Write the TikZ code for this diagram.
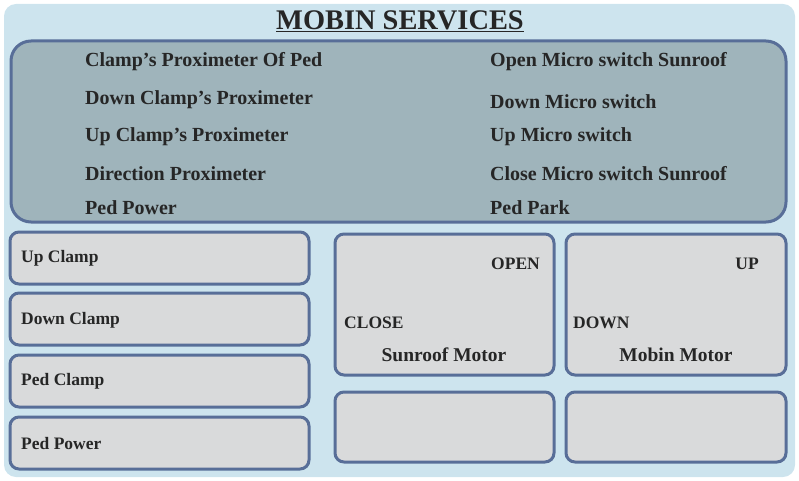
\documentclass[tikz,border=0pt]{standalone}
\usepackage{fontspec}
\setmainfont{Liberation Serif}
\usepackage{xcolor}
\definecolor{bgblue}{HTML}{CDE4EE}
\definecolor{panelgray}{HTML}{9FB4BB}
\definecolor{boxgray}{HTML}{D9DADB}
\definecolor{edgeblue}{HTML}{586E98}
\definecolor{inkgray}{HTML}{262626}

\begin{document}
\begin{tikzpicture}[x=1pt,y=-1pt]
    \tikzset{line/.style={draw=edgeblue,line width=3pt}}
    \tikzset{panel/.style={line,rounded corners=20pt,fill=panelgray}}
    \tikzset{box/.style={line,rounded corners=9pt,fill=boxgray}}
    \tikzset{label/.style={anchor=west,inner sep=0pt,yshift=-2pt,text=inkgray,font=\bfseries\fontsize{20}{20}\selectfont}}
    \tikzset{small/.style={anchor=west,inner sep=0pt,yshift=-1pt,text=inkgray,font=\bfseries\fontsize{17.5}{17.5}\selectfont}}
    \tikzset{motor/.style={inner sep=0pt,yshift=-1pt,text=inkgray,font=\bfseries\fontsize{19.5}{19.5}\selectfont}}

    \useasboundingbox (0,0) rectangle (799,481);
    \fill[bgblue,rounded corners=12pt] (4,4) rectangle (795,477);

    \node[inner sep=0pt,text=inkgray,font=\bfseries\fontsize{28.4}{28.4}\selectfont] (title) at (400,21) {\underline{MOBIN SERVICES}};

    % sensor panel
    \path[panel] (11,41) rectangle (786,222);
    \node[label] (t1) at (85,60) {Clamp’s Proximeter Of Ped};
    \node[label] (t2) at (85,98) {Down Clamp’s Proximeter};
    \node[label] (t3) at (85,135) {Up Clamp’s Proximeter};
    \node[label] (t4) at (85,172) {Direction Proximeter};
    \node[label] (t5) at (85,206) {Ped Power};
    \node[label] (s1) at (490,60) {Open Micro switch Sunroof};
    \node[label] (s2) at (490,100) {Down Micro switch};
    \node[label] (s3) at (490,135) {Up Micro switch};
    \node[label] (s4) at (490,172) {Close Micro switch Sunroof};
    \node[label] (s5) at (490,206) {Ped Park};

    % outputs
    \path[box] (10,232) rectangle (309,284);
    \path[box] (10,293) rectangle (309,345);
    \path[box] (10,355) rectangle (309,407);
    \path[box] (10,417) rectangle (309,469);
    \node[small] (o1) at (21,257) {Up Clamp};
    \node[small] (o2) at (21,319) {Down Clamp};
    \node[small] (o3) at (21,380) {Ped Clamp};
    \node[small] (o4) at (21,443) {Ped Power};

    % motors
    \path[box] (335,234) rectangle (554,375);
    \path[box] (566,234) rectangle (786,375);
    \path[box] (335,392) rectangle (554,462);
    \path[box] (566,392) rectangle (786,462);
    \node[small,anchor=east] (open) at (540,263) {OPEN};
    \node[small] (close) at (344,322) {CLOSE};
    \node[motor] (sunroof) at (444,354) {Sunroof Motor};
    \node[small,anchor=east] (up) at (759,263) {UP};
    \node[small] (down) at (573,322) {DOWN};
    \node[motor] (mobin) at (676,354) {Mobin Motor};
\end{tikzpicture}
\end{document}
